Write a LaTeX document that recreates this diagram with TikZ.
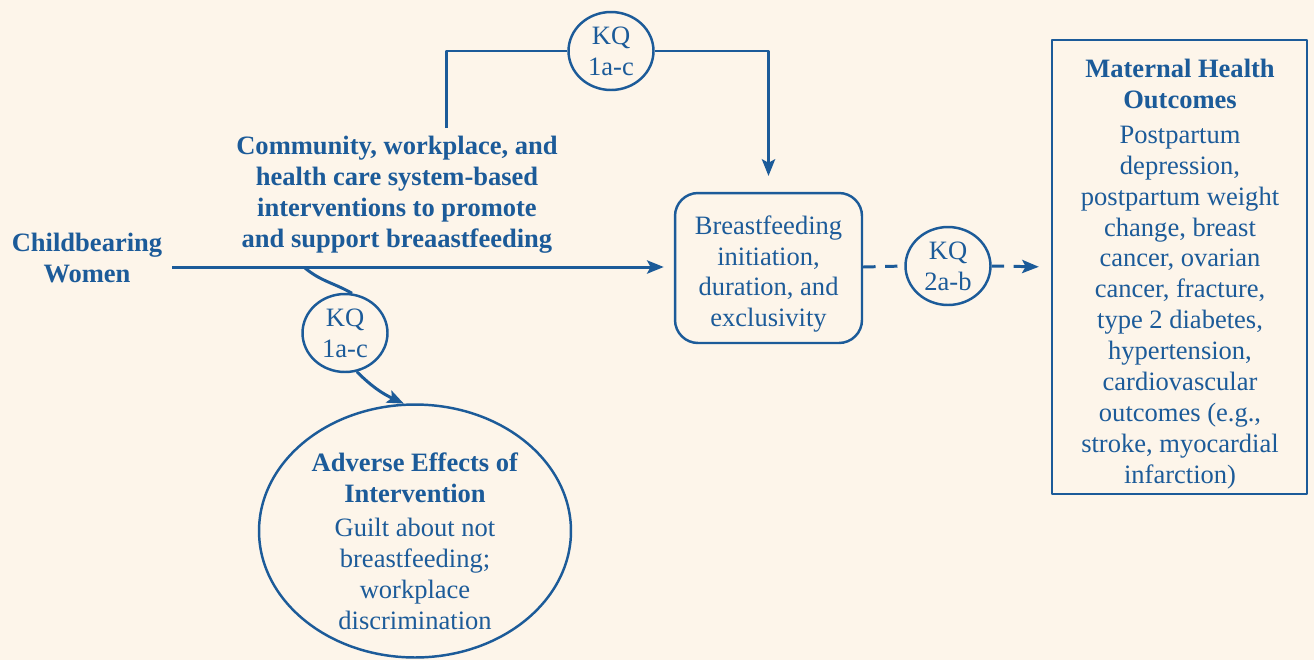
\documentclass[tikz,border=0pt]{standalone}
\usepackage{fontspec}
\setmainfont{Liberation Serif}
\usetikzlibrary{arrows.meta,shapes.geometric,positioning}
\definecolor{kqblue}{RGB}{28,91,153}
\definecolor{cream}{RGB}{253,245,234}
\tikzset{
	txt/.style={align=center,inner sep=0pt},
	bold/.style={txt,font=\fontsize{15.1}{17.6}\selectfont\bfseries},
	kq/.style={ellipse,draw,line width=1.4pt,minimum width=1.7cm,minimum height=1.56cm,inner sep=0pt,align=center},
	bfbox/.style={rectangle,rounded corners=0.46cm,draw,line width=1.4pt,minimum width=3.74cm,minimum height=3cm,inner sep=0pt},
	outbox/.style={rectangle,draw,line width=1.4pt,minimum width=5.1cm,minimum height=9.08cm,inner sep=0pt},
	advell/.style={ellipse,draw,line width=1.4pt,minimum width=6.24cm,minimum height=5.06cm,inner sep=0pt},
	dashline/.style={dash pattern=on 7pt off 5.5pt}
}
\begin{document}
\begin{tikzpicture}[x=0.02cm,y=-0.02cm,>={Stealth[length=9.5pt,width=7.5pt,inset=2pt]},
	font=\fontsize{15.1}{17.6}\selectfont, line join=round, color=kqblue, line width=1.7pt]
	\useasboundingbox (0,0) rectangle (1314,660);
	\fill[cream] (0,0) rectangle (1314,660);
	\path
	(446,128)coordinate(up)
	(172,267)coordinate(start)
	(305,268)coordinate(brk)
	;
	% population and interventions
	\node[bold] (cbw) at (87,258) {Childbearing\\Women};
	\node[bold] (cwh) at (397,195) {Community, workplace, and\\health care system-based\\interventions to promote\\and support breaastfeeding};
	% key questions
	\foreach \n/\p/\t in {kqa/{611,51}/1a-c,kqc/{345,333}/1a-c,kqb/{948,266}/2a-b}
		\node[kq] (\n) at (\p) {KQ\\\t};
	% outcomes
	\node[bfbox] (bf) at (768.5,268) {};
	\node[txt] (bftxt) at (768.5,274) {Breastfeeding\\initiation,\\duration, and\\exclusivity};
	\node[outbox] (mho) at (1179.5,267) {};
	\node[txt,anchor=north] (mhotxt) at (1180,58) {\textbf{Maternal Health}\\\textbf{Outcomes}\\[0.07cm]Postpartum\\depression,\\postpartum weight\\change, breast\\cancer, ovarian\\cancer, fracture,\\type 2 diabetes,\\hypertension,\\cardiovascular\\outcomes (e.g.,\\stroke, myocardial\\infarction)};
	\node[advell] (adv) at (415,531) {};
	\node[txt] (advtxt) at (415,541) {\textbf{Adverse Effects of}\\\textbf{Intervention}\\[0.06cm]Guilt about not\\breastfeeding;\\workplace\\discrimination};
	% connectors
	\draw (up) |- (kqa);
	\draw[->,shorten >=9pt] (kqa) -| (bf);
	\draw[->,shorten >=5.7pt] (start) -- (start -| bf.west);
	\draw[dashline] (start -| bf.east) -- (kqb.west);
	\draw[dashline,->,shorten >=6.8pt] (kqb.east) -- (start -| mho.west);
	\draw (brk) to[out=-40,in=150] (kqc.80);
	\draw[->] (kqc.-73) to[out=-45,in=155] (adv.95);
\end{tikzpicture}
\end{document}
